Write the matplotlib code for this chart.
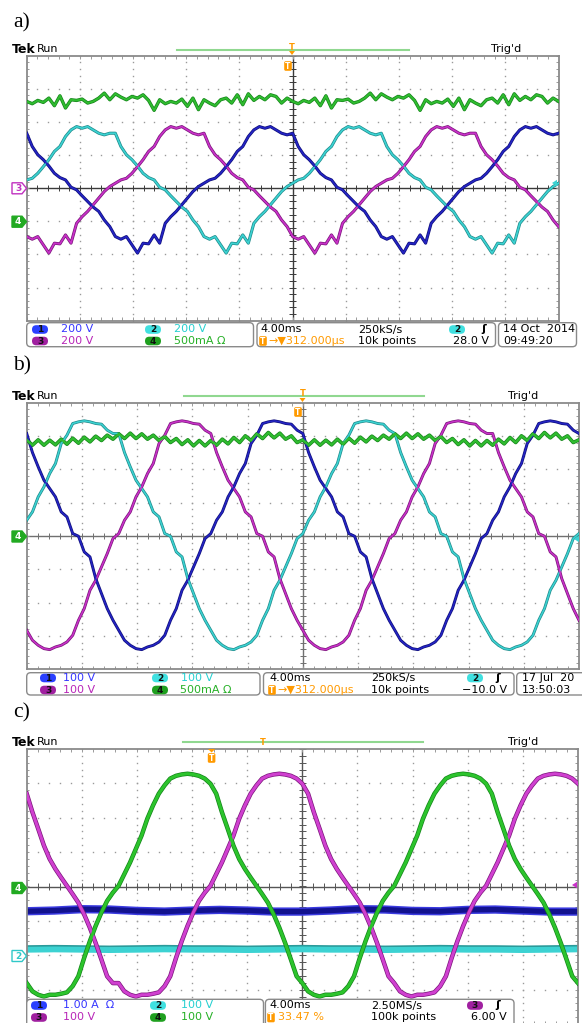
import numpy as np
import matplotlib
matplotlib.use("Agg")
import matplotlib.pyplot as plt
from matplotlib.patches import FancyBboxPatch, Polygon
from matplotlib.collections import LineCollection

# traces in screen divisions, one 50 Hz period = 5 div = 48 samples
a_ch1 = [1.66, 1.26, 1.01, 0.86, 0.67, 0.45, 0.32, 0.25, 0.03, -0.05,
         -0.23, -0.40, -0.57, -0.70, -0.96, -1.16, -1.46, -1.54, -1.46, -1.71,
         -1.96, -1.66, -1.68, -1.41, -1.66, -1.06, -0.86, -0.70, -0.50, -0.30,
         -0.10, 0.05, 0.15, 0.25, 0.30, 0.45, 0.65, 0.86, 1.11, 1.26,
         1.56, 1.76, 1.86, 1.81, 1.86, 1.76, 1.66, 1.61]
a_ch4 = [2.62, 2.55, 2.65, 2.59, 2.72, 2.49, 2.79, 2.42, 2.67, 2.65,
         2.69, 2.57, 2.62, 2.72, 2.87, 2.67, 2.85, 2.75, 2.67, 2.77,
         2.72, 2.82, 2.65, 2.35, 2.67, 2.55, 2.62, 2.57, 2.69, 2.47,
         2.72, 2.37, 2.67, 2.57, 2.49, 2.67, 2.72, 2.57, 2.82, 2.52,
         2.85, 2.65, 2.77, 2.67, 2.82, 2.77, 2.57, 2.72]
b_ch1 = [3.07, 2.50, 2.07, 1.67, 1.42, 1.17, 0.72, 0.57, 0.07, -0.01,
         -0.48, -0.63, -1.28, -1.73, -2.18, -2.53, -2.83, -3.13, -3.28, -3.38,
         -3.41, -3.33, -3.28, -3.18, -2.98, -2.53, -2.18, -1.63, -1.33, -0.93,
         -0.53, -0.08, 0.07, 0.47, 0.72, 1.17, 1.47, 1.87, 2.17, 2.77,
         3.02, 3.37, 3.42, 3.45, 3.42, 3.37, 3.35, 3.17]
b_ch4 = [2.88, 2.72, 2.88, 2.72, 2.87, 2.73, 2.90, 2.75, 2.93, 2.78,
         2.96, 2.82, 2.99, 2.86, 3.02, 2.90, 3.06, 2.92, 3.08, 2.92,
         3.06, 2.90, 3.02, 2.86, 2.98, 2.80, 2.92, 2.74, 2.88, 2.70,
         2.86, 2.70, 2.86, 2.72, 2.90, 2.76, 2.95, 2.80, 3.00, 2.86,
         3.06, 2.92, 3.10, 2.94, 3.08, 2.90, 3.00, 2.80]
c_ch4 = [-2.81, -3.05, -3.15, -3.20, -3.15, -3.15, -3.12, -3.08, -2.90, -2.61,
         -2.08, -1.59, -1.15, -0.76, -0.42, -0.18, 0.02, 0.36, 0.70, 1.09,
         1.48, 1.97, 2.36, 2.70, 2.94, 3.14, 3.22, 3.26, 3.28, 3.26,
         3.22, 3.14, 2.99, 2.70, 2.16, 1.68, 1.19, 0.80, 0.51, 0.26,
         0.02, -0.22, -0.47, -0.81, -1.20, -1.64, -2.12, -2.61]
# c) dc-like traces every 0.5 div
c_ch1 = [-0.72, -0.70, -0.66, -0.67, -0.71, -0.73, -0.70, -0.68, -0.70, -0.73, -0.73,
         -0.70, -0.66, -0.67, -0.71, -0.72, -0.68, -0.67, -0.70, -0.73, -0.73]
c_ch2 = [-1.84, -1.83, -1.84, -1.85, -1.84, -1.83, -1.84, -1.84, -1.85, -1.84, -1.83,
         -1.84, -1.84, -1.85, -1.84, -1.83, -1.84, -1.84, -1.85, -1.84, -1.83]
shift = 16  # 120 deg = 16 samples

blue, cyan, mag, green = '#2424c4', '#3cd2d2', '#c832c8', '#30bc30'
blue_e, cyan_e, mag_e, green_e = '#10107a', '#1f8a8a', '#7a167a', '#14841a'
orange = '#ff9a00'

fig = plt.figure(figsize=(5.82, 10.23), dpi=100)
fig.patch.set_facecolor('white')


def tile(v):
    v = np.asarray(v)
    return np.concatenate([v, v, v[:1]])


xs = np.arange(97) * 5 / 48
xs_dc = np.arange(21) * 0.5


def place(x0, y0, x1, y1):
    return fig.add_axes([x0 / 582, 1 - y1 / 1023, (x1 - x0) / 582, (y1 - y0) / 1023])


def screen(ax, cross):
    ax.set_xlim(0, 10)
    ax.set_ylim(-4, 4)
    ax.set_xticks([])
    ax.set_yticks([])
    for sp in ax.spines.values():
        sp.set_color('#8a8a8a')
        sp.set_linewidth(1.3)
    hd = np.arange(0, 10.001, 0.2)
    vd = np.arange(-4, 4.001, 0.2)
    for gx in [1, 2, 3, 4, 6, 7, 8, 9]:
        ax.plot(np.full(len(vd), gx), vd, ls='none', marker='s', ms=1.0, mew=0,
                color='#9a9a9a', zorder=1)
    for gy in [-3, -2, -1, 1, 2, 3]:
        ax.plot(hd, np.full(len(hd), gy), ls='none', marker='s', ms=1.0, mew=0,
                color='#9a9a9a', zorder=1)
    ax.axhline(0, color=cross, lw=1.0, zorder=1)
    ax.axvline(5, color=cross, lw=1.0, zorder=1)
    segs = [[(t, -0.09), (t, 0.09)] for t in hd] + [[(4.94, t), (5.06, t)] for t in vd]
    ax.add_collection(LineCollection(segs, colors=cross, linewidths=0.7, zorder=1))
    edge = ([[(t, 3.9), (t, 4)] for t in hd] + [[(t, -4), (t, -3.9)] for t in hd]
            + [[(0, t), (0.05, t)] for t in vd] + [[(9.95, t), (10, t)] for t in vd])
    ax.add_collection(LineCollection(edge, colors='#9a9a9a', linewidths=0.7, zorder=1))


def trace(ax, y, core, edge, lw=1.2, z=3):
    ax.plot(xs, y, color=edge, lw=lw + 1.0, zorder=z, solid_joinstyle='round')
    ax.plot(xs, y, color=core, lw=lw, zorder=z + 0.1, solid_joinstyle='round')


# ---- a) ----
axa = place(26.7, 55.7, 558.6, 320.7)
screen(axa, '#3a3a3a')
pa = tile(a_ch1)
trace(axa, tile(a_ch4), green, green_e, lw=1.4)
trace(axa, np.roll(pa, shift), cyan, cyan_e)
trace(axa, np.roll(pa, -shift), mag, mag_e)
trace(axa, pa, blue, blue_e)

# ---- b) ----
axb = place(26.7, 402.5, 579, 669.3)
screen(axb, '#707070')
pb = tile(b_ch1)
trace(axb, np.roll(pb, shift), cyan, cyan_e, lw=1.1)
trace(axb, np.roll(pb, -shift), mag, mag_e, lw=1.1)
trace(axb, pb, blue, blue_e, lw=1.1)
trace(axb, tile(b_ch4), green, green_e, lw=1.6)

# ---- c) ----
axc = place(26.7, 749, 578, 1024)
screen(axc, '#555555')
axc.plot(xs_dc, c_ch1, color='#3a3ae0', lw=6.0, zorder=2)
axc.plot(xs_dc, c_ch1, color='#12128e', lw=3.8, zorder=2.1)
axc.plot(xs_dc, np.asarray(c_ch2) + 0.1, color='#2a9a9a', lw=1.6, zorder=2)
axc.plot(xs_dc, c_ch2, color=cyan, lw=4.2, zorder=2.1)
pc = tile(c_ch4)
trace(axc, np.roll(pc, shift), '#d040d0', mag_e, lw=2.2)
trace(axc, pc, '#2cc42c', green_e, lw=2.2)

# ---- overlay: labels, headers, info bars ----
ov = fig.add_axes([0, 0, 1, 1], zorder=5)
ov.set_xlim(0, 582)
ov.set_ylim(1023, 0)
ov.axis('off')

for lab, ly in [('a)', 22.5), ('b)', 366), ('c)', 712.5)]:
    ov.text(13, ly, lab, family='Liberation Serif', fontsize=15.5, va='center', ha='left')


def header(y, lx0, lx1, tx):
    ov.text(11.5, y, 'Tek', fontweight='bold', fontsize=9, va='center')
    ov.text(36.5, y, 'Run', fontsize=8, va='center')
    ov.plot([lx0, lx1], [y, y], color='#90d890', lw=1.5)
    ov.text(tx, y, "Trig'd", fontsize=8, va='center')


def box(x0, y0, x1, y1):
    ov.add_patch(FancyBboxPatch((x0, y0), x1 - x0, y1 - y0,
                                boxstyle='round,pad=0,rounding_size=4',
                                fc='white', ec='#8a8a8a', lw=1.0))


def badge(x, y, n, col):
    ov.add_patch(FancyBboxPatch((x - 8, y - 4.3), 16, 8.6,
                                boxstyle='round,pad=0,rounding_size=4.3', fc=col, ec='none'))
    ov.text(x, y + 0.3, n, ha='center', va='center', fontsize=6.5, fontweight='bold',
            color='#101010')


def tbox(x, y):
    ov.add_patch(FancyBboxPatch((x - 3.8, y - 4.8), 7.6, 9.6,
                                boxstyle='round,pad=0,rounding_size=1.5', fc=orange, ec='none'))
    ov.text(x, y + 0.4, 'T', ha='center', va='center', fontsize=5.5, fontweight='bold',
            color='white')


def small_t(x, y, arrow=True):
    ov.text(x, y, 'T', ha='center', va='center', fontsize=6, fontweight='bold', color=orange)
    if arrow:
        ov.add_patch(Polygon([(x - 3, y + 4), (x + 3, y + 4), (x, y + 8)], fc=orange, ec='none'))


def marker(y, n, col, filled=True):
    pts = [(12, y - 5.5), (22, y - 5.5), (26.5, y), (22, y + 5.5), (12, y + 5.5)]
    ov.add_patch(Polygon(pts, closed=True, fc=col if filled else 'white', ec=col, lw=1))
    ov.text(18, y + 0.3, n, ha='center', va='center', fontsize=6.5, fontweight='bold',
            color='white' if filled else col)


def level(x, y, col):
    ov.add_patch(Polygon([(x, y), (x + 5, y - 3.2), (x + 5, y + 3.2)], fc=col, ec='none'))


badge_c = {'1': '#2a40ff', '2': '#40e0e0', '3': '#a020a0', '4': '#1fa01f'}
text_c = {'1': '#3636ff', '2': '#26d0d0', '3': '#b826b8', '4': '#26b026'}
fs = 8

# a) header and bar
header(49.5, 177.4, 409.4, 490.7)
small_t(292, 47)
tbox(288, 66)
marker(188.3, '3', '#c030c0', filled=False)
marker(221.7, '4', '#22aa22')
level(552, 183, cyan)
box(26.7, 322.7, 253.5, 346.7)
box(257, 322.7, 495.5, 346.7)
box(498.5, 322.7, 576.5, 346.7)
r1, r2 = 329.5, 341
badge(40, r1, '1', badge_c['1']); ov.text(61, r1, '200 V', color=text_c['1'], fontsize=fs, va='center')
badge(153, r1, '2', badge_c['2']); ov.text(174, r1, '200 V', color=text_c['2'], fontsize=fs, va='center')
badge(40, r2, '3', badge_c['3']); ov.text(61, r2, '200 V', color=text_c['3'], fontsize=fs, va='center')
badge(153, r2, '4', badge_c['4']); ov.text(174, r2, '500mA Ω', color=text_c['4'], fontsize=fs, va='center')
ov.text(260, r1, '4.00ms', fontsize=fs, va='center')
ov.text(358, r1, '250kS/s', fontsize=fs, va='center')
badge(457, r1, '2', badge_c['2']); ov.text(481, r1, 'ʃ', fontsize=fs, fontweight='bold', va='center')
tbox(263, r2); ov.text(268, r2, '→▼312.000µs', color=orange, fontsize=fs, va='center')
ov.text(358, r2, '10k points', fontsize=fs, va='center')
ov.text(489, r2, '28.0 V', fontsize=fs, va='center', ha='right')
ov.text(503, r1, '14 Oct  2014', fontsize=fs, va='center')
ov.text(503, r2, '09:49:20', fontsize=fs, va='center')

# b) header and bar
header(396, 183.7, 424, 508.5)
small_t(302.5, 394)
tbox(298, 412)
marker(536.5, '4', '#22aa22')
level(574, 539, cyan)
box(26.7, 672.7, 260, 695)
box(263.5, 672.7, 514, 695)
box(516.7, 672.7, 600, 695)
r1, r2 = 678, 690
badge(48, r1, '1', badge_c['1']); ov.text(63, r1, '100 V', color=text_c['1'], fontsize=fs, va='center')
badge(160, r1, '2', badge_c['2']); ov.text(181, r1, '100 V', color=text_c['2'], fontsize=fs, va='center')
badge(48, r2, '3', badge_c['3']); ov.text(63, r2, '100 V', color=text_c['3'], fontsize=fs, va='center')
badge(160, r2, '4', badge_c['4']); ov.text(180, r2, '500mA Ω', color=text_c['4'], fontsize=fs, va='center')
ov.text(269, r1, '4.00ms', fontsize=fs, va='center')
ov.text(371, r1, '250kS/s', fontsize=fs, va='center')
badge(475, r1, '2', badge_c['2']); ov.text(495.5, r1, 'ʃ', fontsize=fs, fontweight='bold', va='center')
tbox(272, r2); ov.text(277, r2, '→▼312.000µs', color=orange, fontsize=fs, va='center')
ov.text(371, r2, '10k points', fontsize=fs, va='center')
ov.text(507, r2, '−10.0 V', fontsize=fs, va='center', ha='right')
ov.text(521.5, r1, '17 Jul  20', fontsize=fs, va='center')
ov.text(521.5, r2, '13:50:03', fontsize=fs, va='center')

# c) header and bar
header(742.3, 183, 423, 508.5)
small_t(262.8, 742.3, arrow=False)
ov.add_patch(Polygon([(208, 749), (215.2, 749), (211.6, 752.5)], fc=orange, ec='none'))
tbox(211.6, 758)
marker(888, '4', '#22aa22')
marker(956, '2', '#30c8c8', filled=False)
level(572, 885, mag)
box(26.7, 999.3, 263.5, 1035)
box(265.4, 999.3, 514, 1035)
r1, r2 = 1005.5, 1017.5
badge(39, r1, '1', badge_c['1']); ov.text(63, r1, '1.00 A  Ω', color=text_c['1'], fontsize=fs, va='center')
badge(158, r1, '2', badge_c['2']); ov.text(181, r1, '100 V', color=text_c['2'], fontsize=fs, va='center')
badge(39, r2, '3', badge_c['3']); ov.text(63, r2, '100 V', color=text_c['3'], fontsize=fs, va='center')
badge(158, r2, '4', badge_c['4']); ov.text(181, r2, '100 V', color=text_c['4'], fontsize=fs, va='center')
ov.text(269, r1, '4.00ms', fontsize=fs, va='center')
ov.text(371, r1, '2.50MS/s', fontsize=fs, va='center')
badge(475, r1, '3', badge_c['3']); ov.text(495.5, r1, 'ʃ', fontsize=fs, fontweight='bold', va='center')
tbox(271, r2); ov.text(278, r2, '33.47 %', color=orange, fontsize=fs, va='center')
ov.text(371, r2, '100k points', fontsize=fs, va='center')
ov.text(507, r2, '6.00 V', fontsize=fs, va='center', ha='right')

fig.savefig('out.png', dpi=100, facecolor='white')
